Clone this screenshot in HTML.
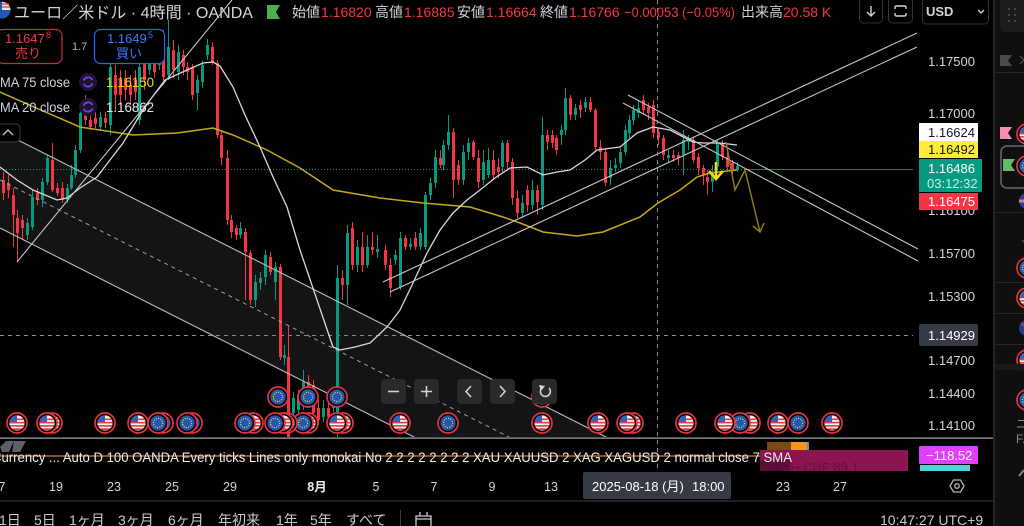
<!DOCTYPE html>
<html><head><meta charset="utf-8"><style>
html,body{margin:0;padding:0;background:#000;width:1024px;height:526px;overflow:hidden}
svg{display:block}
</style></head><body>
<svg width="1024" height="526" viewBox="0 0 1024 526" xmlns="http://www.w3.org/2000/svg" font-family="'Liberation Sans','Noto Sans CJK JP',sans-serif">
<defs>
<clipPath id="chart"><rect x="0" y="0" width="918" height="437"/></clipPath>
<clipPath id="fc"><circle cx="0" cy="0" r="7.6"/></clipPath>
<g id="us">
<circle r="10" fill="#000" stroke="#e8323f" stroke-width="1.7"/>
<g clip-path="url(#fc)">
<rect x="-8" y="-8" width="16" height="16" fill="#f4f4f4"/>
<rect x="-8" y="-4.5" width="16" height="1.6" fill="#e53a40"/>
<rect x="-8" y="-1.2" width="16" height="1.6" fill="#e53a40"/>
<rect x="-8" y="2.1" width="16" height="1.6" fill="#e53a40"/>
<rect x="-8" y="5.3" width="16" height="1.8" fill="#e53a40"/>
<rect x="-8" y="-8" width="8" height="7" fill="#3d5eb8"/>
</g>
</g>
<g id="eu">
<circle r="10" fill="#000" stroke="#e8323f" stroke-width="1.7"/>
<circle r="7.6" fill="#2456b3"/>
<circle r="4.6" fill="none" stroke="#f2cf1d" stroke-width="1.3" stroke-dasharray="1.1 1.3"/>
</g>
</defs>

<rect width="1024" height="526" fill="#000"/>

<!-- ======= main chart ======= -->
<g clip-path="url(#chart)">
<polygon points="0,131 606,437 414,437 0,228" fill="#ffffff" fill-opacity="0.08"/>
<line x1="0" y1="335.5" x2="913" y2="335.5" stroke="#8a8d96" stroke-width="1" stroke-dasharray="4 4"/>
<line x1="0" y1="169.5" x2="745" y2="169.5" stroke="#089981" stroke-width="1" stroke-dasharray="1 2"/>
<line x1="745" y1="169.5" x2="913" y2="169.5" stroke="#c2303c" stroke-width="1"/>

<path fill="none" stroke="#089981" stroke-width="1" d="M27.5 218V240M32.5 190V230M42.5 178V207M47.5 155V185M67.5 184V203M71.5 165V190M75.5 145V178M80.5 105V153M100.5 112V130M110.5 40V135M139.5 60V125M149.5 50V75M159.5 45V70M168.5 20V80M178.5 45V80M197.5 75V110M202.5 60V88M207.5 39V60M240.5 222V238M255.5 275V307M260.5 272V290M265.5 250V285M275.5 262V300M284.5 345V365M293.5 392V420M298.5 390V415M303.5 370V410M323.5 400V422M333.5 390V412M337.5 265V440M347.5 225V305M357.5 240V272M367.5 235V268M377.5 235V258M395.5 250V265M400.5 232V290M410.5 238V250M420.5 228V250M425.5 192V250M430.5 178V200M435.5 150V188M443.5 140V170M448.5 115V150M463.5 145V185M468.5 138V160M483.5 150V185M488.5 148V178M502.5 140V172M522.5 195V218M532.5 180V210M542.5 117V210M561.5 125V145M565.5 88V135M575.5 104V120M585.5 97V112M610.5 160V185M615.5 158V172M620.5 148V168M625.5 125V155M629.5 115V138M633.5 105V125M638.5 100V118M668.5 150V162M683.5 130V175M688.5 135V150M712.5 165V192M717.5 140V170M737.5 162V172"/>
<path fill="none" stroke="#089981" stroke-width="3" d="M27.5 223V235M32.5 197V227M42.5 182V200M47.5 158V182M67.5 188V200M71.5 175V188M75.5 150V175M80.5 113V150M100.5 117V127M110.5 67V125M139.5 67V120M149.5 55V70M159.5 50V65M168.5 47V75M178.5 52V72M197.5 80V93M202.5 65V82M207.5 45V55M240.5 228V235M255.5 282V300M260.5 278V283M265.5 255V277M275.5 267V282M284.5 355V358M293.5 398V413M298.5 395V410M303.5 382V400M323.5 408V417M333.5 395V408M337.5 278V433M347.5 233V285M357.5 247V265M367.5 247V265M377.5 249V252M395.5 255V260M400.5 238V287M410.5 244V247M420.5 233V247M425.5 195V247M430.5 183V195M435.5 157V183M443.5 145V165M448.5 132V145M463.5 152V180M468.5 143V152M483.5 162V180M488.5 160V175M502.5 143V167M522.5 203V213M532.5 190V205M542.5 135V205M561.5 130V135M565.5 98V130M575.5 108V115M585.5 102V108M610.5 168V178M615.5 165V168M620.5 152V163M625.5 130V152M629.5 120V133M633.5 110V120M638.5 108V113M668.5 155V158M683.5 140V155M688.5 140V142M712.5 172V182M717.5 143V167M737.5 166V169"/>
<path fill="none" stroke="#f23645" stroke-width="1" d="M3.5 172V200M8.5 175V198M13.5 188V247M17.5 210V262M22.5 215V240M37.5 188V205M52.5 143V192M57.5 183V196M62.5 182V203M85.5 95V125M90.5 110V130M95.5 112V128M105.5 112V128M115.5 65V110M120.5 70V105M125.5 70V100M130.5 75V105M135.5 70V100M144.5 50V90M154.5 52V78M163.5 30V85M173.5 40V78M183.5 50V75M187.5 62V80M192.5 64V100M212.5 42V65M217.5 60V138M221.5 130V165M227.5 150V225M231.5 215V238M236.5 225V240M245.5 228V300M250.5 250V305M270.5 252V275M280.5 264V360M288.5 325V440M308.5 375V400M313.5 380V420M318.5 400V425M328.5 402V420M342.5 270V300M352.5 222V270M362.5 232V272M372.5 232V255M385.5 245V270M390.5 258V297M405.5 235V250M415.5 232V250M440.5 150V168M453.5 128V198M458.5 160V185M473.5 140V160M478.5 150V188M493.5 150V180M498.5 158V178M507.5 140V170M512.5 158V205M517.5 190V218M527.5 185V212M537.5 185V215M547.5 130V150M552.5 130V148M556.5 135V155M570.5 95V120M580.5 100V118M590.5 97V112M595.5 108V150M600.5 140V160M605.5 148V186M643.5 95V115M648.5 103V120M653.5 100V138M658.5 128V145M663.5 135V160M673.5 150V162M678.5 152V165M693.5 137V163M698.5 153V175M703.5 165V185M707.5 170V195M722.5 140V160M727.5 152V170M732.5 160V173"/>
<path fill="none" stroke="#f23645" stroke-width="3" d="M3.5 180V193M8.5 183V190M13.5 195V215M17.5 218V233M22.5 220V228M37.5 193V200M52.5 160V190M57.5 188V193M62.5 188V200M85.5 113V120M90.5 120V127M95.5 118V124M105.5 118V123M115.5 75V95M120.5 80V95M125.5 78V90M130.5 85V95M135.5 80V92M144.5 60V80M154.5 58V72M163.5 47V77M173.5 50V70M183.5 55V67M187.5 67V72M192.5 67V95M212.5 47V63M217.5 63V135M221.5 135V158M227.5 158V220M231.5 220V232M236.5 228V235M245.5 232V252M250.5 253V300M270.5 257V272M280.5 267V357M288.5 357V440M308.5 382V388M313.5 385V413M318.5 408V420M328.5 408V417M342.5 278V285M352.5 228V265M362.5 247V265M372.5 247V250M385.5 250V265M390.5 265V288M405.5 238V247M415.5 238V247M440.5 158V165M453.5 132V180M458.5 165V180M473.5 142V157M478.5 158V182M493.5 160V175M498.5 167V172M507.5 143V162M512.5 162V198M517.5 198V213M527.5 190V205M537.5 190V202M547.5 135V142M552.5 135V143M556.5 138V150M570.5 98V115M580.5 105V110M590.5 102V110M595.5 110V147M600.5 147V152M605.5 152V183M643.5 100V110M648.5 107V113M653.5 105V133M658.5 132V138M663.5 138V155M673.5 155V158M678.5 155V158M693.5 140V160M698.5 157V168M703.5 168V175M707.5 177V182M722.5 143V157M727.5 157V167M732.5 163V170"/>

<line x1="0" y1="131" x2="606" y2="437" stroke="#b8bbc2" stroke-width="1.1"/>
<line x1="0" y1="228" x2="414" y2="437" stroke="#b8bbc2" stroke-width="1.1"/>
<line x1="0" y1="180" x2="509" y2="437" stroke="#9ea1a8" stroke-width="1" stroke-dasharray="4 4"/>

<polyline fill="none" stroke="#c2ab16" stroke-width="1.5" points="0,92 43,111 80,127 133,135 177,133 213,128 233,135 267,150 300,168 333,190 380,198 423,203 470,207 503,217 520,223 543,232 577,236 603,232 640,217 658,203 680,190 697,177 710,173 737,170"/>
<polyline fill="none" stroke="#d6d8de" stroke-width="1.3" points="0,167 17,180 33,190 57,200 67,198 80,188 97,177 110,160 123,143 140,115 150,100 165,80 187,70 203,63 213,62 220,66 233,87 245,115 260,147 273,177 287,207 300,250 317,300 333,347 340,350 355,347 370,343 387,327 400,310 413,283 427,253 440,230 453,213 467,200 480,190 495,178 510,168 527,167 543,175 557,172 570,170 585,160 597,150 620,147 637,133 653,127 670,130 693,142 703,143 720,143 737,145"/>

<line x1="17" y1="262" x2="232" y2="0" stroke="#c4c6cc" stroke-width="1.1"/>
<line x1="383" y1="282" x2="917" y2="33" stroke="#c4c6cc" stroke-width="1.1"/>
<line x1="390" y1="292" x2="917" y2="47" stroke="#c4c6cc" stroke-width="1.1"/>
<line x1="628" y1="95" x2="918" y2="249" stroke="#c4c6cc" stroke-width="1.1"/>
<line x1="623" y1="103" x2="918" y2="261" stroke="#c4c6cc" stroke-width="1.1"/>

<polyline fill="none" stroke="#8f7c14" stroke-width="1.5" points="726,142 735,190 745,170 760,232"/>
<polyline fill="none" stroke="#8f7c14" stroke-width="1.5" points="753,226 760,232 764,223"/>
<path d="M716 162V178M709 171L716 179L723 171" fill="none" stroke="#f5d90a" stroke-width="2.6"/>
</g>

<line x1="657.5" y1="0" x2="657.5" y2="471" stroke="#8a8d96" stroke-width="1" stroke-dasharray="4 4"/>

<use href="#eu" x="542" y="397"/>
<use href="#eu" x="337" y="397"/>
<use href="#eu" x="308" y="397"/>
<use href="#eu" x="278" y="397"/>
<use href="#us" x="832" y="423"/>
<use href="#eu" x="798" y="423"/>
<use href="#us" x="778" y="423"/>
<use href="#us" x="750" y="423"/>
<use href="#eu" x="740" y="423"/>
<use href="#us" x="725" y="423"/>
<use href="#us" x="686" y="423"/>
<use href="#us" x="633" y="423"/>
<use href="#us" x="627" y="423"/>
<use href="#us" x="598" y="423"/>
<use href="#us" x="542" y="423"/>
<use href="#eu" x="448" y="423"/>
<use href="#us" x="400" y="423"/>
<use href="#us" x="343" y="423"/>
<use href="#us" x="337" y="423"/>
<use href="#us" x="308" y="423"/>
<use href="#eu" x="303" y="423"/>
<use href="#us" x="287" y="423"/>
<use href="#us" x="283" y="423"/>
<use href="#eu" x="275" y="423"/>
<use href="#us" x="253" y="423"/>
<use href="#eu" x="245" y="423"/>
<use href="#eu" x="192" y="423"/>
<use href="#eu" x="187" y="423"/>
<use href="#eu" x="163" y="423"/>
<use href="#eu" x="158" y="423"/>
<use href="#us" x="138" y="423"/>
<use href="#us" x="105" y="423"/>
<use href="#us" x="52" y="423"/>
<use href="#us" x="47" y="423"/>
<use href="#us" x="17" y="423"/>

<g fill="#2a2a2a">
<rect x="381" y="379" width="25" height="25" rx="4"/>
<rect x="414" y="379" width="25" height="25" rx="4"/>
<rect x="457" y="379" width="25" height="25" rx="4"/>
<rect x="490" y="379" width="25" height="25" rx="4"/>
<rect x="532" y="379" width="25" height="25" rx="4"/>
</g>
<g fill="none" stroke="#d1d4dc" stroke-width="1.6">
<path d="M388 391.5H399"/>
<path d="M421 391.5H432M426.5 386V397"/>
<path d="M471 386L466 391.5L471 397"/>
<path d="M500 386L505 391.5L500 397"/>
<path d="M549 388A5 5 0 1 1 541 389"/>
</g>
<path d="M539 385L545 386L541 391Z" fill="#d1d4dc"/>

<rect x="-3" y="124" width="23" height="18" rx="4" fill="#000" stroke="#3a3d45"/>
<path d="M3 135L8 130L13 135" fill="none" stroke="#c8cad0" stroke-width="1.3"/>

<!-- header -->
<circle cx="2" cy="10" r="8.5" fill="#2456b3"/>
<path d="M2 2A8.5 8.5 0 0 1 10.5 10H2Z" fill="#e8e8e8"/>
<path d="M2 4H9M2 7H10" stroke="#e53a40" stroke-width="1.2"/>
<text x="14" y="18" font-size="16" fill="#d1d4dc" textLength="239" lengthAdjust="spacingAndGlyphs">ユーロ／米ドル · 4時間 · OANDA</text>
<polygon points="267,5 280,5 276,12 280,19 267,19" fill="#4caf50"/>
<g font-size="14">
<text x="292" y="17" fill="#d1d4dc">始値</text><text x="321" y="17" fill="#f23645">1.16820</text>
<text x="375" y="17" fill="#d1d4dc">高値</text><text x="404" y="17" fill="#f23645">1.16885</text>
<text x="457" y="17" fill="#d1d4dc">安値</text><text x="486" y="17" fill="#f23645">1.16664</text>
<text x="540" y="17" fill="#d1d4dc">終値</text><text x="569" y="17" fill="#f23645">1.16766</text>
<text x="624" y="17" fill="#f23645" textLength="111" lengthAdjust="spacingAndGlyphs">−0.00053 (−0.05%)</text>
<text x="741" y="17" fill="#d1d4dc">出来高</text><text x="783" y="17" fill="#f23645">20.58 K</text>
</g>

<rect x="859.5" y="-3" width="23" height="26" rx="4" fill="#000" stroke="#2f323a"/>
<path d="M871 6V16M867 12L871 16L875 12" fill="none" stroke="#d1d4dc" stroke-width="1.4"/>
<rect x="888.5" y="-3" width="24" height="26" rx="4" fill="#000" stroke="#2f323a"/>
<path d="M895 9V7.5Q895 6 896.5 6H904.5Q906 6 906 7.5V9M895 13V14.5Q895 16 896.5 16H904.5Q906 16 906 14.5V13" fill="none" stroke="#d1d4dc" stroke-width="1.4"/>
<rect x="922.5" y="-3" width="66" height="27" rx="4" fill="#000" stroke="#2f323a"/>
<text x="926" y="16" font-size="13" font-weight="bold" fill="#d1d4dc">USD</text>
<path d="M978 10L981 13L984 10" fill="none" stroke="#d1d4dc" stroke-width="1.3"/>

<rect x="-3" y="29.5" width="65" height="34" rx="6" fill="#000" stroke="#c92f3c" stroke-width="1.2"/>
<text x="5" y="43" font-size="13" fill="#f23645">1.1647</text>
<text x="46" y="38" font-size="9" fill="#f23645">8</text>
<text x="15" y="58" font-size="13" fill="#f23645">売り</text>
<text x="72" y="50" font-size="11" fill="#b2b5be">1.7</text>
<rect x="94.5" y="29.5" width="70" height="34" rx="6" fill="#000" stroke="#2962ff" stroke-width="1.2"/>
<text x="107" y="43" font-size="13" fill="#3b7bff">1.1649</text>
<text x="148" y="38" font-size="9" fill="#3b7bff">5</text>
<text x="116" y="58" font-size="13" fill="#3b7bff">買い</text>

<text x="0" y="87" font-size="14" fill="#d1d4dc" textLength="70" lengthAdjust="spacingAndGlyphs">MA 75 close</text>
<circle cx="88" cy="82" r="9" fill="#1c1530"/>
<path d="M83.5 80.5A5 5 0 0 1 92.5 80M92.5 83.5A5 5 0 0 1 83.5 84" fill="none" stroke="#7c3cf0" stroke-width="1.8"/>
<text x="106" y="87" font-size="14" fill="#f5d90a" textLength="48" lengthAdjust="spacingAndGlyphs">1.16150</text>
<text x="0" y="112" font-size="14" fill="#d1d4dc" textLength="70" lengthAdjust="spacingAndGlyphs">MA 20 close</text>
<circle cx="88" cy="107" r="9" fill="#1c1530"/>
<path d="M83.5 105.5A5 5 0 0 1 92.5 105M92.5 108.5A5 5 0 0 1 83.5 109" fill="none" stroke="#7c3cf0" stroke-width="1.8"/>
<text x="106" y="112" font-size="14" fill="#e8e8e8" textLength="48" lengthAdjust="spacingAndGlyphs">1.16862</text>

<!-- price axis -->
<g font-size="13" fill="#d1d4dc">
<text x="928" y="66">1.17500</text>
<text x="928" y="118">1.17000</text>
<text x="928" y="215">1.16100</text>
<text x="928" y="258">1.15700</text>
<text x="928" y="301">1.15300</text>
<text x="928" y="333">1.15000</text>
<text x="928" y="365">1.14700</text>
<text x="928" y="398">1.14400</text>
<text x="928" y="430">1.14100</text>
</g>
<rect x="919" y="123" width="59" height="18" fill="#ffffff"/>
<text x="928" y="137" font-size="13" fill="#131722">1.16624</text>
<rect x="919" y="141" width="59" height="17" fill="#ffeb3b"/>
<text x="928" y="154" font-size="13" fill="#131722">1.16492</text>
<rect x="919" y="159" width="63" height="33" rx="1" fill="#089981"/>
<text x="928" y="173" font-size="13" fill="#ffffff">1.16486</text>
<text x="927" y="188" font-size="13" fill="#cfeee6">03:12:32</text>
<rect x="919" y="193" width="59" height="17" fill="#f23645"/>
<text x="928" y="206" font-size="13" fill="#ffffff">1.16475</text>
<rect x="919" y="324" width="59" height="22" rx="2" fill="#363a45"/>
<text x="928" y="340" font-size="13" fill="#ffffff">1.14929</text>

<!-- indicator pane -->
<rect x="0" y="437.5" width="994" height="1.2" fill="#a6a9b0"/>
<path d="M0 447L6 441H14L9 452H2Z M14 441H26L20 452H12Z" fill="#5d606b"/>
<rect x="0" y="455" width="762" height="2" fill="#8a4f22"/>
<rect x="767" y="442" width="24" height="9" fill="#7b4a12"/>
<rect x="791" y="442" width="16" height="9" fill="#f7941d"/>
<rect x="807" y="442" width="2" height="9" fill="#6f8fb0"/>
<rect x="760" y="450" width="148" height="21" fill="#8b1451"/>
<rect x="760" y="460" width="30" height="11" fill="#5c0e36"/>
<text x="770" y="472" font-size="13" fill="#6a0f3e">1   CH    CHF          89.1</text>
<text x="-8" y="462" font-size="14" fill="#eeeeee" textLength="800" lengthAdjust="spacingAndGlyphs">Currency ... Auto D 100 OANDA Every ticks Lines only monokai No 2 2 2 2 2 2 2 2 XAU XAUUSD 2 XAG XAGUSD 2 normal close 7 SMA</text>
<rect x="920" y="465" width="50" height="7" fill="#4dd0e1"/>
<rect x="919" y="446" width="59" height="18" rx="1" fill="#e040fb"/>
<text x="926" y="460" font-size="13" fill="#ffffff">−118.52</text>

<!-- time axis -->
<rect x="0" y="471" width="994" height="29" fill="#000"/>
<g font-size="12.5" fill="#d1d4dc" text-anchor="middle">
<text x="2" y="491">7</text>
<text x="56" y="491">19</text>
<text x="114" y="491">23</text>
<text x="172" y="491">25</text>
<text x="230" y="491">29</text>
<text x="317" y="491" font-weight="bold" fill="#eceef2">8月</text>
<text x="376" y="491">5</text>
<text x="434" y="491">7</text>
<text x="492" y="491">9</text>
<text x="551" y="491">13</text>
<text x="783" y="491">23</text>
<text x="840" y="491">27</text>
</g>
<rect x="583" y="472" width="148" height="27" rx="2" fill="#363a45"/>
<text x="592" y="491" font-size="13" fill="#ffffff">2025-08-18 (月)</text>
<text x="692" y="491" font-size="13" fill="#ffffff">18:00</text>
<polygon points="964,486 960.5,480 953.5,480 950,486 953.5,492 960.5,492" fill="none" stroke="#b2b5be" stroke-width="1.3"/>
<circle cx="957" cy="486" r="2.3" fill="none" stroke="#b2b5be" stroke-width="1.3"/>

<!-- bottom toolbar -->
<rect x="0" y="500" width="994" height="2" fill="#1e1f22"/>
<g font-size="14" fill="#c9cbd1">
<text x="-1" y="525">1日</text>
<text x="34" y="525">5日</text>
<text x="69" y="525">1ヶ月</text>
<text x="118" y="525">3ヶ月</text>
<text x="168" y="525">6ヶ月</text>
<text x="218" y="525">年初来</text>
<text x="276" y="525">1年</text>
<text x="310" y="525">5年</text>
<text x="346" y="525">すべて</text>
<text x="880" y="525">10:47:27 UTC+9</text>
</g>
<rect x="400" y="510" width="1" height="16" fill="#3a3d45"/>
<path d="M416 516H431V527H416ZM416 519H431M420 512V516M427 512V516" fill="none" stroke="#c9cbd1" stroke-width="1.3"/>

<!-- right panel -->
<rect x="993" y="0" width="2" height="526" fill="#262626"/>
<rect x="995" y="0" width="29" height="526" fill="#0f0f0f"/>
<rect x="1000" y="-4" width="30" height="36" rx="6" fill="#1c1c1c"/>
<g fill="#555">
<circle cx="1009" cy="9" r="1"/><circle cx="1015" cy="9" r="1"/>
<circle cx="1009" cy="15" r="1"/><circle cx="1015" cy="15" r="1"/>
<circle cx="1009" cy="21" r="1"/><circle cx="1015" cy="21" r="1"/>
</g>
<g fill="#262626">
<rect x="995" y="72" width="29" height="1"/>
<rect x="995" y="212" width="29" height="1"/>
<rect x="995" y="282" width="29" height="1"/>
<rect x="995" y="313" width="29" height="1"/>
<rect x="995" y="344" width="29" height="1"/>
</g>
<polygon points="1000,55 1012,55 1008,60.5 1012,66 1000,66" fill="#4a4a4a"/>
<path d="M1020 56L1024 60L1020 64" fill="none" stroke="#555" stroke-width="1.2"/>
<polygon points="1000,127 1012,127 1008,133 1012,139 1000,139" fill="#f48fb1"/>
<use href="#us" x="1027" y="134"/>
<rect x="1001" y="146" width="32" height="42" rx="6" fill="none" stroke="#6a6a6a" stroke-width="1.5"/>
<polygon points="1003,159 1015,159 1011,165 1015,171 1003,171" fill="#66bb6a"/>
<use href="#eu" x="1027" y="166"/>
<circle cx="1027" cy="201" r="8" fill="#2a3f8f"/>
<path d="M1019 201H1035M1027 193V209" stroke="#f2f2f2" stroke-width="2.5"/>
<path d="M1019 201H1035M1027 193V209" stroke="#d63a40" stroke-width="1.2"/>
<path d="M1022 240L1025 243L1028 240" fill="none" stroke="#555" stroke-width="1.2"/>
<use href="#eu" x="1027" y="268"/>
<use href="#us" x="1027" y="298"/>
<circle cx="1027" cy="328" r="8" fill="#22408f"/>
<path d="M1021 323L1027 328" stroke="#d63a40" stroke-width="1.5"/>
<use href="#us" x="1027" y="360"/>
<rect x="995" y="364" width="29" height="6" fill="#1a1a1a"/>
<use href="#eu" x="1027" y="400"/>
<text x="1016" y="428" font-size="12" fill="#888">ニ</text>
<text x="1016" y="443" font-size="12" fill="#888">F.</text>
<path d="M1019 476L1024 470" stroke="#888" stroke-width="2"/>
</svg>
</body></html>
